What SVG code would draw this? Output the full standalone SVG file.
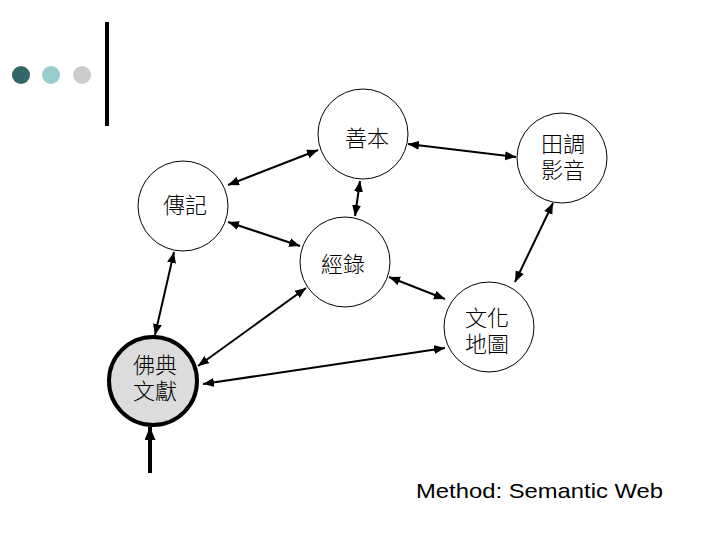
<svg xmlns="http://www.w3.org/2000/svg" width="720" height="540" viewBox="0 0 720 540">
<style>
.node{fill:#fff;stroke:#000;stroke-width:1}
.main{fill:#dcdcdc;stroke:#000;stroke-width:4}
.lbl{font-family:"Liberation Sans","Noto Sans CJK TC","Noto Sans CJK SC",sans-serif;font-size:22px;font-weight:300;text-anchor:middle;fill:#000}
.edge{stroke:#000;stroke-width:2;fill:none;marker-start:url(#ah);marker-end:url(#ah)}
</style>
<defs>
<marker id="ah" markerUnits="userSpaceOnUse" markerWidth="12" markerHeight="10" refX="11" refY="4.5" orient="auto-start-reverse"><path d="M0,0 L11,4.5 L0,9 z" fill="#000"/></marker>
<marker id="ahb" markerUnits="userSpaceOnUse" markerWidth="12" markerHeight="14" refX="13" refY="5.5" orient="auto"><path d="M0,0 L13,5.5 L0,11 z" fill="#000"/></marker>
</defs>
<rect width="720" height="540" fill="#fff"/>
<g id="decor">
<circle cx="21" cy="75" r="9" fill="#336666"/>
<circle cx="51" cy="75" r="9" fill="#99cccc"/>
<circle cx="82" cy="75" r="9" fill="#cccccc"/>
<rect x="105" y="22" width="4" height="104" fill="#000"/>
</g>
<g id="connectors">
<line class="edge" x1="228" y1="185" x2="318" y2="150"/>
<line class="edge" x1="408" y1="144" x2="516" y2="157"/>
<line class="edge" x1="360" y1="181" x2="355" y2="216"/>
<line class="edge" x1="228" y1="222" x2="300" y2="246"/>
<line class="edge" x1="174" y1="252" x2="155" y2="335"/>
<line class="edge" x1="306" y1="288" x2="198" y2="366"/>
<line class="edge" x1="389" y1="277" x2="445" y2="299"/>
<line class="edge" x1="553" y1="203" x2="515" y2="282"/>
<line class="edge" x1="445" y1="348" x2="203" y2="384"/>
<line x1="150" y1="473" x2="150" y2="427" stroke="#000" stroke-width="4" marker-end="url(#ahb)"/>
</g>
<g id="shanben"><circle class="node" cx="363" cy="134" r="45"/><text class="lbl" x="367" y="146">善本</text></g>
<g id="tiandiao"><circle class="node" cx="562" cy="158" r="45"/><text class="lbl" x="563" y="152">田調</text><text class="lbl" x="563" y="178">影音</text></g>
<g id="zhuanji"><circle class="node" cx="183" cy="206" r="45"/><text class="lbl" x="185" y="213">傳記</text></g>
<g id="jinglu"><circle class="node" cx="345" cy="262" r="45"/><text class="lbl" x="343" y="272">經錄</text></g>
<g id="wenhua"><circle class="node" cx="489" cy="327" r="45"/><text class="lbl" x="487" y="326">文化</text><text class="lbl" x="487" y="352">地圖</text></g>
<g id="fodian"><circle class="main" cx="153" cy="381" r="44"/><text class="lbl" x="155" y="373">佛典</text><text class="lbl" x="155" y="399">文獻</text></g>
<text x="416" y="498" font-family="Liberation Sans, Arial, sans-serif" font-size="21" textLength="247" lengthAdjust="spacingAndGlyphs" fill="#000">Method: Semantic Web</text>
</svg>
